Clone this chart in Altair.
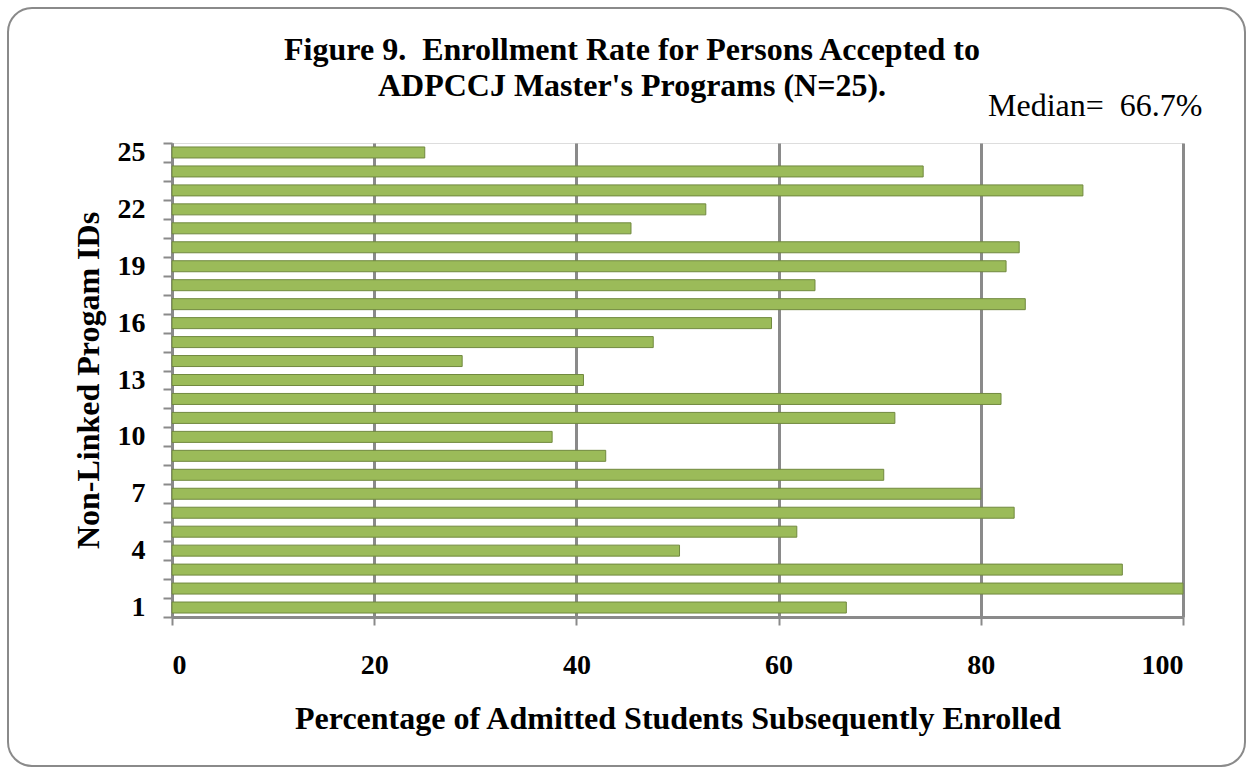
import altair as alt
import pandas as pd

program_ids = list(range(1, 26))
enroll_pct = [66.7, 100.0, 94.0, 50.2, 61.8, 83.3, 80.0, 70.4, 42.9, 37.6,
              71.5, 82.0, 40.7, 28.7, 47.6, 59.3, 84.4, 63.6, 82.5, 83.8,
              45.4, 52.8, 90.1, 74.3, 25.0]
x_ticks = [0, 20, 40, 60, 80, 100]
NB = "\u00a0"
title_text = ["Figure 9." + NB + " Enrollment Rate for Persons Accepted to\nADPCCJ Master's Programs (N=25)."]
median_label = ["Median=" + NB + " 66.7%"]
x_title = "Percentage of Admitted Students Subsequently Enrolled"
y_title = "Non-Linked Progam IDs"

df = pd.DataFrame({"id": program_ids, "pct": enroll_pct})

W, H = 1011, 474
PL, PT = 172, 143
FONT = "Liberation Serif"
GRID = "#8a8a8a"

bars = alt.Chart(df).mark_bar(
    color="#9BBB59", stroke="#71893F", strokeWidth=1, size=11
).encode(
    x=alt.X("pct:Q",
            scale=alt.Scale(domain=[0, 100], nice=False),
            axis=alt.Axis(values=x_ticks, title=x_title, grid=True,
                          gridColor=GRID, gridWidth=3,
                          domainColor=GRID, domainWidth=3,
                          tickColor=GRID, tickWidth=2, tickSize=8,
                          labelFont=FONT, labelFontSize=28, labelFontWeight="bold",
                          labelColor="black", labelPadding=26,
                          titleFont=FONT, titleFontSize=32, titleFontWeight="bold",
                          titleColor="black", titlePadding=24)),
    y=alt.Y("id:O", sort="descending",
            scale=alt.Scale(paddingInner=0, paddingOuter=0),
            axis=alt.Axis(title=y_title, grid=False, tickBand="extent",
                          labelExpr="(datum.value - 1) % 3 == 0 ? datum.value : ''",
                          domainColor=GRID, domainWidth=3,
                          tickColor=GRID, tickWidth=2, tickSize=9,
                          labelFont=FONT, labelFontSize=28, labelFontWeight="bold",
                          labelColor="black", labelPadding=18,
                          titleFont=FONT, titleFontSize=32, titleFontWeight="bold",
                          titleColor="black", titlePadding=12)),
)

title = alt.Chart(pd.DataFrame({"t": title_text})).mark_text(
    font=FONT, fontSize=32, fontWeight="bold", align="center", baseline="alphabetic",
    lineBreak="\n", lineHeight=36, color="black"
).encode(x=alt.value(632 - PL), y=alt.value(60 - PT), text="t:N")

median = alt.Chart(pd.DataFrame({"t": median_label})).mark_text(
    font=FONT, fontSize=32, align="left", baseline="alphabetic", color="black"
).encode(x=alt.value(988 - PL), y=alt.value(116 - PT), text="t:N")

border = alt.Chart(pd.DataFrame({"a": [0]})).mark_rect(
    fillOpacity=0, stroke=GRID, strokeWidth=2, cornerRadius=24
).encode(x=alt.value(8 - PL), x2=alt.value(1245 - PL),
         y=alt.value(8 - PT), y2=alt.value(766 - PT))

chart = alt.layer(border, bars, title, median).properties(
    width=W, height=H,
    autosize=alt.AutoSizeParams(type="none"),
    padding={"left": PL, "top": PT, "right": 1253 - PL - W, "bottom": 774 - PT - H},
).configure_view(stroke=None).configure(background="white")

chart.save("out.html", embed_options={"renderer": "svg", "actions": False})
